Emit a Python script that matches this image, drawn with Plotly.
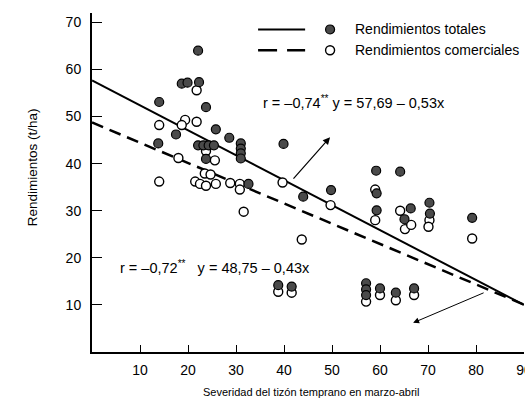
import plotly.graph_objects as go

# ---- data ----
total_x = [22.1, 18.7, 19.9, 22.3, 14.0, 23.75, 25.8, 17.5, 28.6,
           31.0, 31.0, 31.0, 31.0, 13.8, 22.1, 23.2, 24.3, 25.4, 23.75,
           39.9, 32.6, 44.0, 49.8, 59.2, 64.2, 59.3, 59.3, 66.4, 65.1,
           70.3, 70.4, 79.2, 38.8, 41.6, 57.1, 57.1, 57.1, 60.0, 63.3, 67.1]
total_y = [64.0, 57.0, 57.2, 57.3, 53.1, 52.0, 47.3, 46.2, 45.5,
           44.3, 43.2, 42.2, 41.1, 44.3, 43.9, 43.9, 43.9, 43.9, 41.0,
           44.2, 35.7, 33.0, 34.4, 38.5, 38.3, 33.7, 30.1, 30.5, 28.2,
           31.7, 29.4, 28.5, 14.2, 13.9, 14.6, 13.3, 12.1, 13.5, 12.6, 13.5]

com_x = [21.8, 19.4, 21.8, 14.0, 18.7, 23.75, 18.0, 25.6, 23.5, 24.7,
         14.0, 21.5, 22.5, 23.75, 25.8, 28.8, 30.8, 30.8, 31.6, 39.7,
         43.7, 49.7, 59.0, 59.0, 64.2, 65.2, 66.5, 70.3, 70.1, 79.2,
         38.8, 41.6, 57.1, 60.0, 63.3, 67.1]
com_y = [55.6, 49.3, 48.9, 48.2, 48.2, 42.7, 41.2, 40.7, 37.9, 37.7,
         36.2, 36.2, 35.7, 35.3, 35.7, 35.9, 35.7, 34.5, 29.8, 36.0,
         23.9, 31.2, 34.5, 28.0, 30.0, 26.1, 27.0, 28.0, 26.6, 24.1,
         12.8, 12.6, 10.7, 12.1, 11.0, 12.1]

# regression lines (intercept, slope) and x extent
reg_total = (57.69, -0.53)
reg_com = (48.75, -0.43)
reg_x = [0, 90]

x_ticks = [10, 20, 30, 40, 50, 60, 70, 80, 90]
y_ticks = [10, 20, 30, 40, 50, 60, 70]

FONT = "Liberation Sans, Arial, sans-serif"

fig = go.Figure()

fig.add_trace(go.Scatter(
    x=reg_x, y=[reg_total[0] + reg_total[1] * v for v in reg_x],
    mode="lines", line=dict(color="black", width=2), showlegend=False,
    hoverinfo="skip"))
fig.add_trace(go.Scatter(
    x=reg_x, y=[reg_com[0] + reg_com[1] * v for v in reg_x],
    mode="lines", line=dict(color="black", width=2.5, dash="12px,7px"),
    showlegend=False, hoverinfo="skip"))

fig.add_trace(go.Scatter(
    x=com_x, y=com_y, mode="markers", showlegend=False,
    marker=dict(size=9, color="white", line=dict(color="black", width=1.4))))
fig.add_trace(go.Scatter(
    x=total_x, y=total_y, mode="markers", showlegend=False,
    marker=dict(size=9, color="#4a4a4a", line=dict(color="black", width=1.2))))

shapes = [
    dict(type="line", xref="x", yref="y", x0=34.6, x1=44.4, y0=68.5, y1=68.5,
         line=dict(color="black", width=2)),
    dict(type="line", xref="x", yref="y", x0=34.6, x1=44.4, y0=64.1, y1=64.1,
         line=dict(color="black", width=2.5, dash="19px,10px")),
    dict(type="circle", xref="x", yref="y", xsizemode="pixel", ysizemode="pixel",
         xanchor=49.6, yanchor=68.5, x0=-4.5, x1=4.5, y0=-4.5, y1=4.5,
         fillcolor="#4a4a4a", line=dict(color="black", width=1.2)),
    dict(type="circle", xref="x", yref="y", xsizemode="pixel", ysizemode="pixel",
         xanchor=49.6, yanchor=64.1, x0=-4.5, x1=4.5, y0=-4.5, y1=4.5,
         fillcolor="white", line=dict(color="black", width=1.4)),
]

annotations = [
    dict(x=54.4, y=68.5, xref="x", yref="y", text="Rendimientos totales",
         showarrow=False, xanchor="left", yanchor="middle",
         font=dict(size=14, family=FONT, color="black")),
    dict(x=54.4, y=64.1, xref="x", yref="y", text="Rendimientos comerciales",
         showarrow=False, xanchor="left", yanchor="middle",
         font=dict(size=14, family=FONT, color="black")),
    dict(x=35.2, y=53.2, xref="x", yref="y",
         text="r = –0,74<sup>**</sup> y = 57,69 – 0,53x",
         showarrow=False, xanchor="left", yanchor="middle",
         font=dict(size=14.5, family=FONT, color="black")),
    dict(x=5.4, y=18.0, xref="x", yref="y",
         text="r = –0,72<sup>**</sup>\u00a0\u00a0\u00a0y = 48,75 – 0,43x",
         showarrow=False, xanchor="left", yanchor="middle",
         font=dict(size=14.5, family=FONT, color="black")),
    dict(x=49.6, y=45.6, ax=41.7, ay=36.5, xref="x", yref="y", axref="x", ayref="y",
         text="", showarrow=True, arrowhead=2, arrowsize=1.2, arrowwidth=1.2,
         arrowcolor="black", standoff=0, startstandoff=0),
    dict(x=66.9, y=6.2, ax=81.9, ay=12.7, xref="x", yref="y", axref="x", ayref="y",
         text="", showarrow=True, arrowhead=2, arrowsize=1.2, arrowwidth=1,
         arrowcolor="black", standoff=0, startstandoff=0),
    dict(x=-0.137, y=39.2, xref="paper", yref="y", text="Rendimientos (t/ha)",
         showarrow=False, textangle=-90, xanchor="center", yanchor="middle",
         font=dict(size=13.5, family=FONT, color="black")),
    dict(x=45.6, y=-0.118, xref="x", yref="paper",
         text="Severidad del tizón temprano en marzo-abril",
         showarrow=False, xanchor="center", yanchor="middle",
         font=dict(size=11, family=FONT, color="black")),
]

fig.update_layout(
    width=525, height=404,
    margin=dict(l=92, r=1, t=13, b=52, pad=0, autoexpand=False),
    paper_bgcolor="white", plot_bgcolor="white",
    font=dict(family=FONT, size=14, color="black"),
    shapes=shapes, annotations=annotations,
    showlegend=False,
)
fig.update_xaxes(range=[0, 90], tickvals=x_ticks, ticktext=[str(v) for v in x_ticks],
                 showline=True, linecolor="black", linewidth=2, ticks="inside",
                 ticklen=7, tickwidth=1.2, tickcolor="black", showgrid=False,
                 zeroline=False, tickfont=dict(size=14), ticklabelstandoff=4,
                 ticklabeloverflow="allow", automargin=False)
fig.update_yaxes(range=[0, 72], tickvals=y_ticks, ticktext=[str(v) for v in y_ticks],
                 showline=True, linecolor="black", linewidth=2, ticks="inside",
                 ticklen=10, tickwidth=1.2, tickcolor="black", showgrid=False,
                 zeroline=False, tickfont=dict(size=14), ticklabelstandoff=6,
                 ticklabeloverflow="allow", automargin=False)

fig.write_html("out.html",
               config={"displayModeBar": False},
               post_script="document.body.style.margin='0px';"
                           "document.body.style.overflow='hidden';")
